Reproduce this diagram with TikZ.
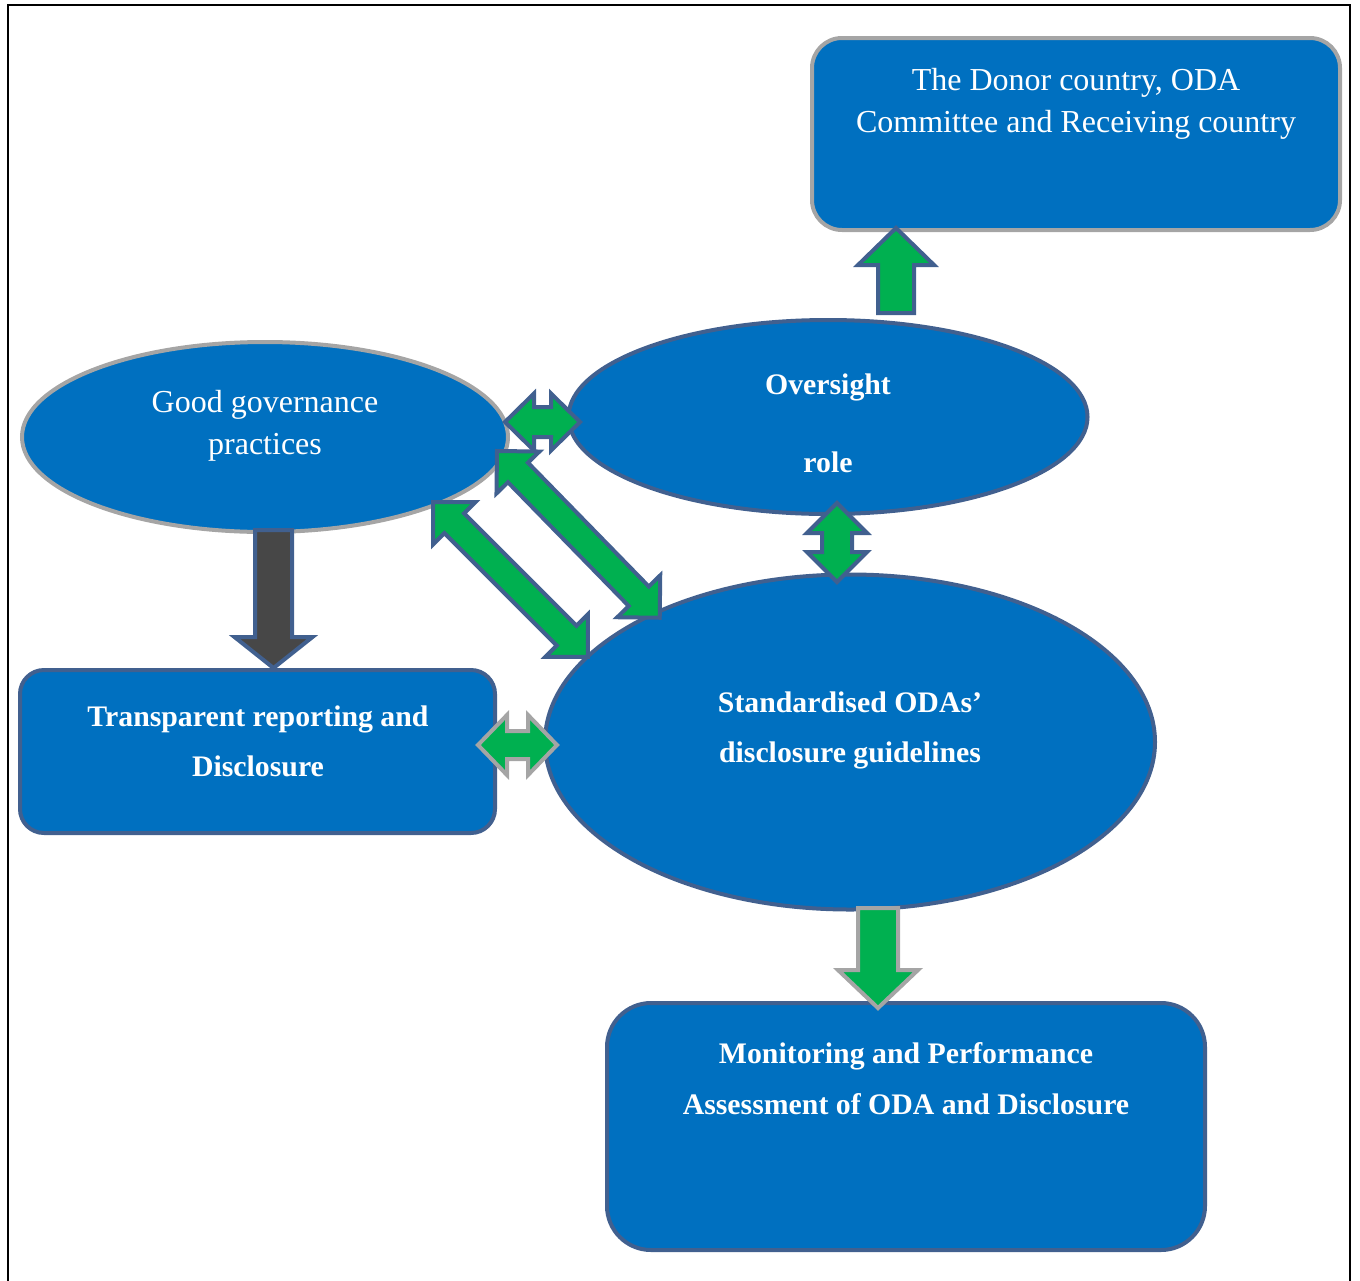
\documentclass[tikz,border=0pt]{standalone}
\usepackage{fontspec}
\setmainfont{Liberation Serif}
\usetikzlibrary{shapes.geometric}
\definecolor{mblue}{HTML}{0070C0}
\definecolor{dblue}{HTML}{41608F}
\definecolor{lgray}{HTML}{A5A5A5}
\definecolor{mgreen}{HTML}{00B050}
\definecolor{dgray}{HTML}{474747}
\newcommand\DblArr[8]{\draw[#8,shift={(#1,#2)},rotate=#3] (0,0) -- (#7,#6) -- (#7,#5) -- ({#4-#7},#5) -- ({#4-#7},#6) -- (#4,0) -- ({#4-#7},-#6) -- ({#4-#7},-#5) -- (#7,-#5) -- (#7,-#6) -- cycle;}
\newcommand\SglArr[8]{\draw[#8,shift={(#1,#2)},rotate=#3] (0,-#5) -- ({#4-#7},-#5) -- ({#4-#7},-#6) -- (#4,0) -- ({#4-#7},#6) -- ({#4-#7},#5) -- (0,#5) -- cycle;}
\begin{document}
\begin{tikzpicture}[x=0.5pt,y=-0.5pt,
  shapebase/.style={fill=mblue,line width=2pt,inner sep=0pt},
  grayedge/.style={draw=lgray},
  blueedge/.style={draw=dblue},
  ell/.style={shapebase,ellipse},
  rbox/.style={shapebase,rectangle},
  regtext/.style={text=white,font=\fontsize{16pt}{19pt}\selectfont,text height=0.7em,text depth=0.2em,inner sep=0pt},
  boldtext/.style={text=white,font=\fontsize{14.9pt}{18pt}\selectfont\bfseries,text height=0.7em,text depth=0.2em,inner sep=0pt},
  arrgb/.style={fill=mgreen,draw=dblue,line width=2pt,line join=miter,miter limit=10},
  arrgg/.style={fill=mgreen,draw=lgray,line width=2pt,line join=miter,miter limit=10},
  arrdb/.style={fill=dgray,draw=dblue,line width=2pt,line join=miter,miter limit=10}]
\useasboundingbox (0,0) rectangle (1360,1280);
\draw[line width=1pt,black] (8,1290) -- (8,5) -- (1350,5) -- (1350,1290);
% shapes
\node[rbox,grayedge,rounded corners=15pt,minimum width=264pt,minimum height=96pt] (donor) at (1076,134) {};
\node[ell,grayedge,minimum width=243pt,minimum height=95pt] (gg) at (265,437) {};
\node[ell,blueedge,minimum width=259.5pt,minimum height=97pt] (over) at (828,417) {};
\node[ell,blueedge,minimum width=305pt,minimum height=167.5pt] (std) at (850,742) {};
\node[rbox,blueedge,rounded corners=12pt,minimum width=237.5pt,minimum height=81.5pt] (trans) at (257.5,751.5) {};
\node[rbox,blueedge,rounded corners=22pt,minimum width=299pt,minimum height=123.5pt] (mon) at (906,1126.5) {};
% texts
\node[regtext] (t1a) at (1076,85) {The Donor country, ODA};
\node[regtext] (t1b) at (1076,127) {Committee and Receiving country};
\node[regtext] (t2a) at (265,407) {Good governance};
\node[regtext] (t2b) at (265,449) {practices};
\node[boldtext] (t3a) at (828,389) {Oversight};
\node[boldtext] (t3b) at (828,467) {role};
\node[boldtext] (t4a) at (850,707) {Standardised ODAs’};
\node[boldtext] (t4b) at (850,757) {disclosure guidelines};
\node[boldtext] (t5a) at (258,721) {Transparent reporting and};
\node[boldtext] (t5b) at (258,771) {Disclosure};
\node[boldtext] (t6a) at (906,1058) {Monitoring and Performance};
\node[boldtext] (t6b) at (906,1109) {Assessment of ODA and Disclosure};
% arrows
\SglArr{896}{313}{90}{85}{18}{38}{37}{arrgb}
\DblArr{505}{422}{0}{75}{15}{28.5}{29}{arrgb}
\DblArr{497}{451}{-45.7}{233}{14}{30}{30}{arrgb}
\DblArr{433}{502}{-45}{219}{14}{30}{30}{arrgb}
\DblArr{837}{503}{-90}{79}{15}{30}{30}{arrgb}
\DblArr{478}{745}{0}{79}{14}{30}{29}{arrgg}
\SglArr{273.5}{530}{-90}{138}{18.5}{39}{31}{arrdb}
\SglArr{878}{908}{-90}{100}{20}{40}{38}{arrgg}
\end{tikzpicture}
\end{document}
